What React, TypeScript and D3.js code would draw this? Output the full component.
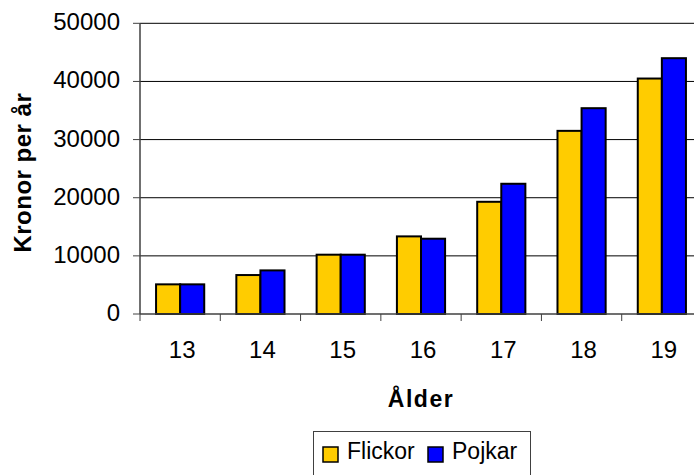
import React from "react";
import * as d3 from "d3";

const categories = ["13", "14", "15", "16", "17", "18", "19"];
const seriesNames = ["Flickor", "Pojkar"];
const flickor = [5100, 6700, 10200, 13350, 19300, 31500, 40500];
const pojkar = [5100, 7500, 10200, 12950, 22400, 35400, 44000];
const yTicks = [0, 10000, 20000, 30000, 40000, 50000];
const colors = ["#FFCC00", "#0000FF"];

const W = 694;
const H = 475;
const plotLeft = 140;
const plotRight = 702;
const plotTop = 23.3;
const plotBottom = 314;
const FONT = "Arial, 'Liberation Sans', sans-serif";

export default function App() {
  const x = d3.scaleBand<string>().domain(categories).range([plotLeft, plotRight]).paddingInner(0).paddingOuter(0);
  const y = d3.scaleLinear().domain([0, 50000]).range([plotBottom, plotTop]);
  const bw = x.bandwidth();
  const inner = d3.scaleBand<string>().domain(seriesNames).range([bw * 0.2, bw * 0.8]);
  const series = [flickor, pojkar];

  return (
    <svg width={W} height={H} style={{ position: "absolute", left: 0, top: 0, background: "#fff" }} fontFamily={FONT}>
      {yTicks.filter((t) => t > 0).map((t) => (
        <line key={"g" + t} x1={plotLeft} x2={plotRight} y1={y(t)} y2={y(t)} stroke="#000" strokeWidth={1} />
      ))}
      {categories.map((c, i) => (
        <g key={c} transform={`translate(${x(c)},0)`}>
          {series.map((s, j) => (
            <rect
              key={j}
              x={inner(seriesNames[j])}
              y={y(s[i])}
              width={inner.bandwidth()}
              height={plotBottom - y(s[i])}
              fill={colors[j]}
              stroke="#000"
              strokeWidth={2}
            />
          ))}
        </g>
      ))}
      <line x1={plotLeft} x2={plotLeft} y1={plotTop} y2={plotBottom} stroke="#404040" strokeWidth={1.5} />
      {yTicks.map((t) => (
        <g key={"y" + t}>
          <line x1={plotLeft - 7} x2={plotLeft} y1={y(t)} y2={y(t)} stroke="#404040" strokeWidth={1} />
          <text x={120} y={y(t) + 7} textAnchor="end" fontSize={24} fill="#000">
            {t}
          </text>
        </g>
      ))}
      <line x1={plotLeft} x2={plotRight} y1={plotBottom} y2={plotBottom} stroke="#404040" strokeWidth={1.5} />
      {categories.map((c) => (
        <line key={"xt" + c} x1={x(c)!} x2={x(c)!} y1={plotBottom} y2={plotBottom + 7} stroke="#404040" strokeWidth={1} />
      ))}
      {categories.map((c) => (
        <text key={"xl" + c} x={x(c)! + bw / 2 + 2} y={358} textAnchor="middle" fontSize={24} fill="#000">
          {c}
        </text>
      ))}
      <text x={(plotLeft + plotRight) / 2} y={407} textAnchor="middle" fontSize={23} fontWeight="bold" letterSpacing={1.5} fill="#000">
        Ålder
      </text>
      <text
        transform={`translate(31,${(plotTop + plotBottom) / 2 + 4}) rotate(-90)`}
        textAnchor="middle"
        fontSize={24}
        fontWeight="bold"
        letterSpacing={0.5}
        fill="#000"
      >
        Kronor per år
      </text>
      <rect x={313.5} y={431.5} width={217} height={60} fill="#fff" stroke="#404040" strokeWidth={1} />
      {seriesNames.map((n, j) => {
        const lx = j === 0 ? 323 : 428;
        return (
          <g key={n}>
            <rect x={lx} y={447} width={15} height={15} fill={colors[j]} stroke="#000" strokeWidth={1.5} />
            <text x={lx + 24} y={459} fontSize={23} fill="#000">
              {n}
            </text>
          </g>
        );
      })}
    </svg>
  );
}
